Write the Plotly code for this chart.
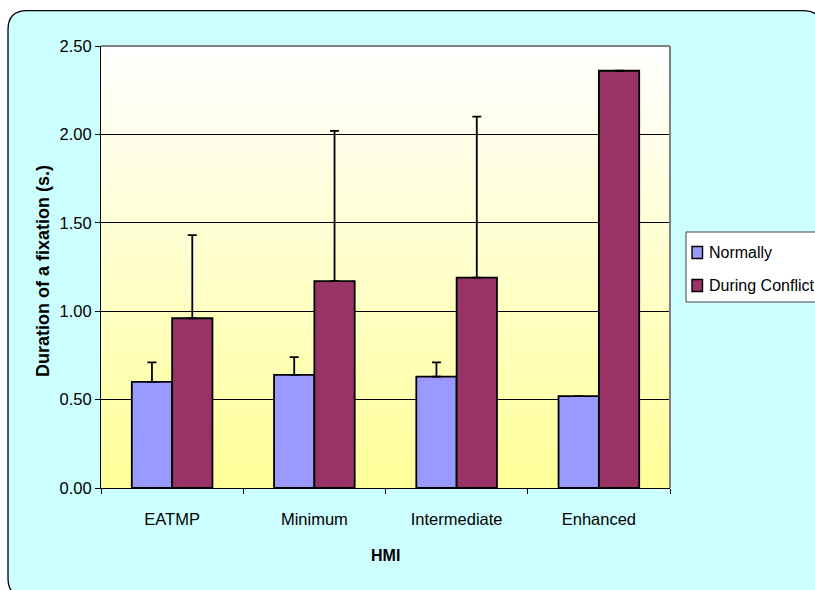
import plotly.graph_objects as go

# ---- data -------------------------------------------------------------
categories = ["EATMP", "Minimum", "Intermediate", "Enhanced"]
series_names = ["Normally", "During Conflict"]
normally = [0.60, 0.64, 0.63, 0.52]
normally_err = [0.11, 0.10, 0.08, None]
conflict = [0.96, 1.17, 1.19, 2.36]
conflict_err = [0.47, 0.85, 0.91, None]
y_ticks = [0.0, 0.5, 1.0, 1.5, 2.0, 2.5]

colors = ["#9999FF", "#993366"]
FONT = "Liberation Sans, Arial, sans-serif"

# ---- geometry (pixels) -------------------------------------------------
W, H = 815, 590
L, R, T, B = 101, 145, 46, 102
PW, PH = W - L - R, H - T - B


def px(x):
    return (x - L) / PW


def py(y):
    return (H - B - y) / PH


fig = go.Figure()

for name, vals, errs, col in [
    (series_names[0], normally, normally_err, colors[0]),
    (series_names[1], conflict, conflict_err, colors[1]),
]:
    fig.add_trace(go.Bar(
        x=categories, y=vals, name=name,
        marker=dict(color=col, line=dict(color="black", width=1.8)),
        error_y=dict(type="data", array=errs,
                     arrayminus=[None if e is None else 0 for e in errs],
                     symmetric=False, color="black", thickness=1.8, width=4.5),
        showlegend=False,
    ))

shapes = []

# rounded cyan chart area
x0, x1, y0, y1, r = 8, 822, 10.7, 597, 19
rx, ry = r / PW, r / PH
X0, X1, Y0, Y1 = px(x0), px(x1), py(y0), py(y1)
path = (f"M {X0 + rx},{Y0} L {X1 - rx},{Y0} Q {X1},{Y0} {X1},{Y0 - ry} "
        f"L {X1},{Y1 + ry} Q {X1},{Y1} {X1 - rx},{Y1} "
        f"L {X0 + rx},{Y1} Q {X0},{Y1} {X0},{Y1 + ry} "
        f"L {X0},{Y0 - ry} Q {X0},{Y0} {X0 + rx},{Y0} Z")
shapes.append(dict(type="path", path=path, xref="paper", yref="paper",
                   fillcolor="#CCFFFF", line=dict(color="black", width=1.3),
                   layer="below"))

# vertical white-to-yellow gradient inside the plot area
N = 110
top_rgb, bot_rgb = (255, 255, 255), (255, 255, 153)
for i in range(N):
    t = i / (N - 1)
    c = tuple(round(bot_rgb[k] + (top_rgb[k] - bot_rgb[k]) * t) for k in range(3))
    shapes.append(dict(type="rect", xref="paper", yref="paper",
                       x0=0, x1=1, y0=i / N, y1=min(1, (i + 1.6) / N),
                       fillcolor=f"rgb{c}", line=dict(width=0), layer="below"))

# gray frame on top and right of the plot area
shapes.append(dict(type="line", xref="paper", yref="paper", x0=0, x1=1, y0=1, y1=1,
                   line=dict(color="#808080", width=2), layer="above"))
shapes.append(dict(type="line", xref="paper", yref="paper", x0=1, x1=1, y0=0, y1=1,
                   line=dict(color="#808080", width=2), layer="above"))

# legend box
lx0, lx1, ly0, ly1 = 686, 830, 232, 302
shapes.append(dict(type="rect", xref="paper", yref="paper",
                   x0=px(lx0), x1=px(lx1), y0=py(ly1), y1=py(ly0),
                   fillcolor="white", line=dict(color="#404040", width=1),
                   layer="above"))
annotations = []
for i, (name, col) in enumerate(zip(series_names, colors)):
    cy = 252.5 + 33 * i
    shapes.append(dict(type="rect", xref="paper", yref="paper",
                       x0=px(692), x1=px(702.5), y0=py(cy + 6), y1=py(cy - 6),
                       fillcolor=col, line=dict(color="black", width=1.4),
                       layer="above"))
    annotations.append(dict(text=name, xref="paper", yref="paper",
                            x=px(707), y=py(cy), xanchor="left", yanchor="middle",
                            showarrow=False, font=dict(family=FONT, size=16, color="black")))

# axis titles
annotations.append(dict(text="<b>HMI</b>", xref="paper", yref="paper",
                        x=0.5, y=py(555), xanchor="center", yanchor="middle",
                        showarrow=False, font=dict(family=FONT, size=16, color="black")))
annotations.append(dict(text="<b>Duration of a fixation (s.)</b>", xref="paper", yref="paper",
                        x=px(43), y=py(271), xanchor="center", yanchor="middle",
                        textangle=-90, showarrow=False,
                        font=dict(family=FONT, size=18, color="black")))

fig.update_layout(
    width=W, height=H,
    margin=dict(l=L, r=R, t=T, b=B, autoexpand=False),
    paper_bgcolor="white",
    plot_bgcolor="rgba(0,0,0,0)",
    barmode="group", bargap=0.433, bargroupgap=0,
    font=dict(family=FONT, size=16, color="black"),
    shapes=shapes, annotations=annotations,
    showlegend=False,
    xaxis=dict(showline=True, linecolor="black", linewidth=1.2,
               ticks="outside", ticklen=5, tickcolor="black", tickwidth=1,
               tickson="boundaries", showgrid=False, ticklabelstandoff=16,
               tickfont=dict(family=FONT, size=16.5, color="black")),
    yaxis=dict(range=[0, 2.5], tickvals=y_ticks,
               ticktext=[f"{v:.2f}" for v in y_ticks],
               showline=True, linecolor="black", linewidth=1.2,
               ticks="outside", ticklen=5, tickcolor="black", tickwidth=1,
               showgrid=True, gridcolor="black", gridwidth=1, zeroline=False,
               tickfont=dict(family=FONT, size=16.5, color="black")),
)

fig.write_html("out.html")
